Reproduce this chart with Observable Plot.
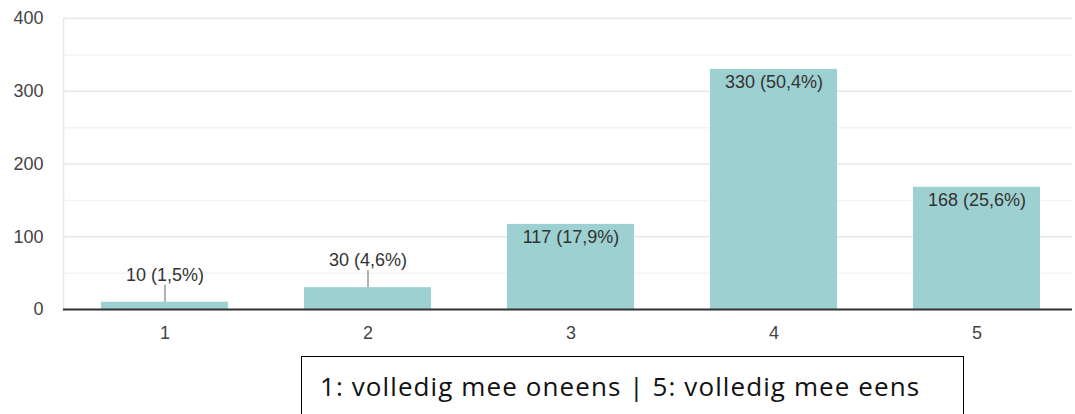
<!DOCTYPE html>
<html><head><meta charset="utf-8">
<script src="https://cdn.jsdelivr.net/npm/d3@7"></script>
<script src="https://cdn.jsdelivr.net/npm/@observablehq/plot@0.6"></script>
<style>
body{margin:0;background:#fff;width:1075px;height:414px;overflow:hidden;position:relative}
#chart{position:absolute;left:0;top:0}
#caption{position:absolute;left:301px;top:356px;width:663px;height:80px;border:1.5px solid #000;box-sizing:border-box;font-family:"Open Sans",sans-serif;font-size:26px;letter-spacing:1.1px;line-height:30px;padding-left:18px;padding-top:14px;color:#111;white-space:nowrap}
</style>
</head><body>
<div id="chart"></div>
<div id="caption"></div>
<script>
const categories = ["1","2","3","4","5"];
const counts = [10, 30, 117, 330, 168];
const percents = ["1,5%","4,6%","17,9%","50,4%","25,6%"];
const yTicks = [0, 100, 200, 300, 400];
const yMinorTicks = [50, 150, 250, 350];
const captionText = "1: volledig mee oneens | 5: volledig mee eens";

const data = categories.map((c, i) => ({cat: c, count: counts[i], label: `${counts[i]} (${percents[i]})`}));
const outside = data.filter(d => d.count < 50);
const inside = data.filter(d => d.count >= 50);

const chart = Plot.plot({
  width: 1075, height: 345,
  marginLeft: 63, marginRight: 3, marginTop: 18, marginBottom: 36,
  style: {fontFamily: "'Liberation Sans', Arial, sans-serif", fontSize: "18px", color: "#444", background: "white"},
  x: {domain: categories, range: [61, 1081], paddingInner: 0.373, paddingOuter: 0.1945, label: null, tickSize: 0, tickPadding: 17},
  y: {domain: [0, 400], ticks: yTicks, label: null, tickSize: 0, tickPadding: 20},
  marks: [
    Plot.gridY(yMinorTicks, {stroke: "#f3f3f3", strokeOpacity: 1, strokeWidth: 1.5}),
    Plot.gridY(yTicks, {stroke: "#e8e8e8", strokeOpacity: 1, strokeWidth: 1.5}),
    Plot.frame({anchor: "left", stroke: "#e8e8e8", strokeWidth: 1.5}),
    Plot.barY(data, {x: "cat", y: "count", fill: "#9dd0d0"}),
    Plot.ruleY([0], {stroke: "#333", strokeWidth: 2}),
    Plot.ruleX(outside, {x: "cat", y1: "count", y2: "count", insetTop: -17, stroke: "#999", strokeWidth: 1.5}),
    Plot.text(outside, {x: "cat", y: "count", text: "label", dy: -27, fill: "#333"}),
    Plot.text(inside, {x: "cat", y: "count", text: "label", dy: 13, fill: "#333"})
  ]
});
document.getElementById("chart").appendChild(chart);
document.getElementById("caption").textContent = captionText;
</script>
</body></html>
